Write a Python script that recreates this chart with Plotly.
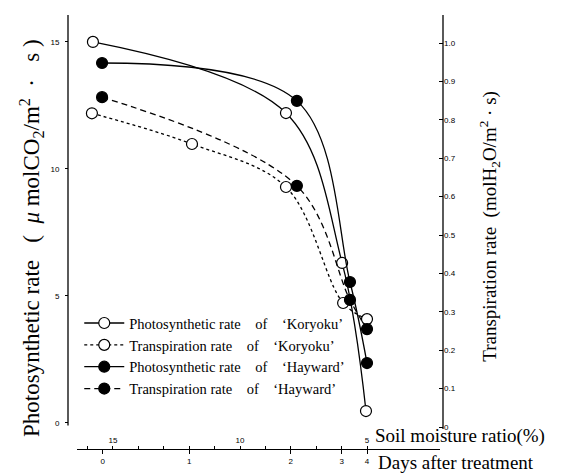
import plotly.graph_objects as go

# ---- data (x = soil moisture ratio %, left y = photosynthesis, right y = transpiration)
kor_ps_x = [15.79, 8.19, 5.98, 5.04]
kor_ps_y = [15.0, 12.2, 6.3, 0.47]
hay_ps_x = [15.43, 7.76, 5.67, 5.0]
hay_ps_y = [14.17, 12.68, 5.55, 2.36]
kor_tr_x = [15.83, 11.89, 8.19, 5.94, 5.0]
kor_tr_y = [0.817, 0.737, 0.625, 0.323, 0.281]
hay_tr_x = [15.43, 7.76, 5.67, 5.0]
hay_tr_y = [0.859, 0.628, 0.331, 0.255]

moist_ticks = [15, 10, 5]
moist_ticktext = ["15", "10", "5"]
moist_minor = [5, 6, 7, 8, 9, 10, 11, 12, 13, 14, 15, 16]
day_labels = ["0", "1", "2", "3", "4"]
day_at_moist = [15.4, 12.0, 8.0, 6.0, 5.0]
left_ticks = [0, 5, 10, 15]
right_ticks = [0, 0.1, 0.2, 0.3, 0.4, 0.5, 0.6, 0.7, 0.8, 0.9, 1.0]
right_ticktext = ["0", "0.1", "0.2", "0.3", "0.4", "0.5", "0.6", "0.7", "0.8", "0.9", "1.0"]

NB = "\u00a0"
G = NB * 4
names = [
    f"Photosynthetic rate{G}of{G}‘Koryoku’",
    f"Transpiration rate{G}of{G}‘Koryoku’",
    f"Photosynthetic rate{G}of{G}‘Hayward’",
    f"Transpiration rate{G}of{G}‘Hayward’",
]

SERIF = "Liberation Serif, Times New Roman, serif"
TICKF = dict(family="Liberation Sans Narrow, Liberation Sans, Arial", size=8, color="black")

open_m = dict(symbol="circle", size=11, color="white", line=dict(color="black", width=1.2))
fill_m = dict(symbol="circle", size=11, color="black", line=dict(color="black", width=1.2))

fig = go.Figure()
fig.add_trace(go.Scatter(x=kor_ps_x, y=kor_ps_y, name=names[0], mode="lines+markers",
                         line=dict(color="black", width=1.3, shape="spline", smoothing=1.0),
                         marker=open_m, xaxis="x", yaxis="y"))
fig.add_trace(go.Scatter(x=kor_tr_x, y=kor_tr_y, name=names[1], mode="lines+markers",
                         line=dict(color="black", width=1.3, shape="spline", smoothing=1.0, dash="3px,3px"),
                         marker=open_m, xaxis="x", yaxis="y2"))
fig.add_trace(go.Scatter(x=hay_ps_x, y=hay_ps_y, name=names[2], mode="lines+markers",
                         line=dict(color="black", width=1.3, shape="spline", smoothing=1.0),
                         marker=fill_m, xaxis="x", yaxis="y"))
fig.add_trace(go.Scatter(x=hay_tr_x, y=hay_tr_y, name=names[3], mode="lines+markers",
                         line=dict(color="black", width=1.3, shape="spline", smoothing=1.0, dash="6px,4px"),
                         marker=fill_m, xaxis="x2", yaxis="y2"))

xr = [16.417, 2.126]
y_top = 16.06
y_bot = -1.024
y2_top = 1.073
y2_bot = -0.0573

fig.update_layout(
    width=567, height=467,
    margin=dict(l=60, r=132, t=7, b=26),
    paper_bgcolor="white", plot_bgcolor="white",
    showlegend=True,
    legend=dict(x=0.03, y=0.327, xanchor="left", yanchor="top",
                font=dict(family=SERIF, size=14.5, color="black"),
                bgcolor="rgba(0,0,0,0)", tracegroupgap=0, itemwidth=40),
    xaxis=dict(domain=[0.024, 0.992], range=xr, anchor="y", side="bottom",
               showline=True, linecolor="black", linewidth=1.3, showgrid=False, zeroline=False,
               tickmode="array", tickvals=moist_ticks, ticktext=moist_ticktext,
               ticks="inside", ticklen=3, tickcolor="black", tickfont=TICKF,
               ticklabelposition="inside",
               minor=dict(tickmode="array", tickvals=moist_minor, ticks="inside", ticklen=3, tickcolor="black")),
    xaxis2=dict(overlaying="x", domain=[0.024, 0.992], range=xr, anchor="y2", side="bottom",
                showline=False, showgrid=False, zeroline=False,
                tickmode="array", tickvals=day_at_moist, ticktext=day_labels,
                ticks="outside", ticklen=4, tickcolor="black", tickfont=TICKF),
    yaxis=dict(range=[y_bot, y_top], anchor="free", position=0,
               showline=False, showgrid=False, zeroline=False,
               tickmode="array", tickvals=left_ticks, ticks="outside", ticklen=3,
               tickcolor="black", tickfont=TICKF, ticklabelstandoff=4),
    yaxis2=dict(overlaying="y", range=[y2_bot, y2_top], anchor="free", position=1, side="right",
                showline=False, showgrid=False, zeroline=False,
                tickmode="array", tickvals=right_ticks, ticktext=right_ticktext,
                ticks="inside", ticklen=4, tickcolor="black", tickfont=TICKF),
)

# vertical axis lines that stop at zero, as in the original
fig.add_shape(type="line", xref="paper", yref="y", x0=0, x1=0, y0=-0.1, y1=y_top,
              line=dict(color="black", width=1.3))
fig.add_shape(type="line", xref="paper", yref="y2", x0=1, x1=1, y0=-0.005, y1=y2_top,
              line=dict(color="black", width=1.3))

fig.add_annotation(xref="paper", yref="paper", x=-0.099, y=0.486, xanchor="center", yanchor="middle",
                   textangle=-90, showarrow=False,
                   text=(f"Photosynthetic rate{NB}{NB}{NB}({NB}{NB}<i>μ</i> molCO<sub>2</sub>/m<sup>2</sup>"
                         f"{NB}{NB}·{NB}{NB}{NB}s{NB})"),
                   font=dict(family=SERIF, size=23, color="black"))
fig.add_annotation(xref="paper", yref="paper", x=1.125, y=0.514, xanchor="center", yanchor="middle",
                   textangle=-90, showarrow=False,
                   text=f"Transpiration rate{NB}{NB}(molH<sub>2</sub>O/m<sup>2</sup>{NB}·{NB}s)",
                   font=dict(family=SERIF, size=19, color="black"))
fig.add_annotation(xref="paper", yref="paper", x=0.813, y=0.03, xanchor="left", yanchor="middle",
                   showarrow=False,
                   text="Soil moisture ratio(%)", font=dict(family=SERIF, size=19, color="black"))
fig.add_annotation(xref="paper", yref="paper", x=0.821, y=-0.032, xanchor="left", yanchor="middle",
                   showarrow=False,
                   text="Days after treatment", font=dict(family=SERIF, size=19, color="black"))

fig.write_html("out.html")
